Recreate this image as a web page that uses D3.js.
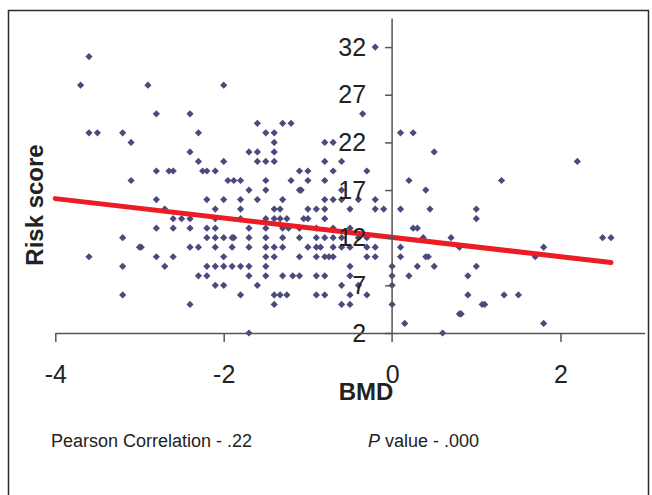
<!DOCTYPE html>
<html>
<head>
<meta charset="utf-8">
<script src="https://cdn.jsdelivr.net/npm/d3@7"></script>
<style>
	body { margin: 0; background: #fff; }
	svg { display: block; font-family: 'Liberation Sans', Arial, sans-serif; }
</style>
</head>
<body>
<div id="svg-container"></div>
<script>
// values: one BMD list per risk score
var riskScores = [32, 31, 28, 25, 24, 23, 22, 21, 20, 19, 18, 17, 16, 15, 14, 13, 12, 11, 10, 9, 8, 7, 6, 5, 4, 3, 2];
var bmdByRisk = [
	[-0.2],
	[-3.6],
	[-3.7, -2.9, -2.0],
	[-2.8, -2.4, -0.35],
	[-1.6, -1.3, -1.2],
	[-3.6, -3.5, -3.2, -2.3, -1.5, -1.4, 0.1, 0.25],
	[-3.1, -1.4, -0.8, -0.7],
	[-2.4, -1.7, -1.6, -1.4, 0.5],
	[-2.3, -2.0, -1.6, -1.5, -1.4, -0.8, -0.6, 2.2],
	[-2.8, -2.65, -2.6, -2.25, -2.2, -2.1, -1.1, -1.0, -0.7, -0.3],
	[-3.1, -1.95, -1.88, -1.8, -1.5, -1.2, -1.0, -0.8, 0.2, 1.3],
	[-1.7, -1.5, -1.1, -1.08, -0.6, 0.4],
	[-2.8, -2.2, -2.0, -1.8, -1.6, -1.3, -0.8, -0.7, -0.6, -0.4, -0.2],
	[-2.7, -2.1, -1.8, -1.4, -1.33, -1.0, -0.9, -0.8, -0.5, -0.2, -0.1, 0.1, 0.45, 1.0],
	[-2.6, -2.5, -2.4, -2.1, -1.8, -1.5, -1.4, -1.33, -1.25, -1.05, -1.0, -0.8, 1.0],
	[-2.8, -2.6, -2.4, -2.2, -2.1, -1.7, -1.5, -1.3, -1.23, -1.1, -0.9, -0.7, -0.5, 0.25, 0.3],
	[-3.2, -2.2, -2.1, -2.0, -1.9, -1.88, -1.7, -1.5, -1.3, -1.1, -0.9, -0.8, -0.7, -0.6, -0.4, -0.3, 0.37, 0.7, 2.5, 2.6],
	[-3.0, -2.98, -2.4, -2.3, -2.1, -1.9, -1.7, -1.5, -1.4, -1.3, -1.0, -0.9, -0.85, -0.7, -0.6, -0.5, -0.3, -0.2, 0.1, 0.8, 1.8],
	[-3.6, -2.8, -2.6, -2.0, -1.5, -1.4, -1.1, -0.9, -0.8, -0.75, -0.7, -0.3, -0.2, 0.1, 0.4, 0.43, 1.7],
	[-3.2, -2.7, -2.2, -2.1, -2.0, -1.9, -1.8, -1.7, -1.5, -0.5, 0.0, 0.3, 0.5, 1.0],
	[-2.3, -2.2, -1.7, -1.5, -1.3, -1.18, -1.1, -0.9, -0.8, -0.5, 0.0, 0.2, 0.9],
	[-2.1, -2.0, -1.6, -0.6, -0.4, 0.0],
	[-3.2, -1.8, -1.4, -1.33, -1.25, -0.9, -0.8, -0.5, -0.3, 0.9, 1.33, 1.5],
	[-2.4, -1.4, -0.6, -0.5, 0.0, 1.07, 1.1],
	[0.8, 0.82],
	[0.15, 1.8],
	[-1.7, 0.6]
];
// fitted line end points (BMD, risk score)
var fitX = [-4, 2.6];
var fitY = [16.1, 9.4];

var xTicks = [-4, -2, 0, 2];
var yTicks = [2, 7, 12, 17, 22, 27, 32];
var xDomain = [-4, 3];
var yDomain = [2, 35];

var CONFIGSVG = { width: 652, height: 495 };

var svg = d3
	.select('#svg-container')
	.append('svg')
	.attr('width', CONFIGSVG.width)
	.attr('height', CONFIGSVG.height);

var x = d3.scaleLinear().domain(xDomain).range([55.3, 644.7]);
var y = d3.scaleLinear().domain(yDomain).range([333, 18.5]);

// outer frame
svg
	.append('rect')
	.attr('x', 8.5)
	.attr('y', 10.5)
	.attr('width', 640)
	.attr('height', 500)
	.attr('fill', 'none')
	.attr('stroke', '#2b2b2b')
	.attr('stroke-width', 1.5);

var points = [];
riskScores.forEach((r, i) => {
	bmdByRisk[i].forEach((b) => points.push({ bmd: b, risk: r }));
});

// plain hyphen for negatives, like the original
var fmt = (d) => String(d);

// axes
var xAxis = svg
	.append('g')
	.attr('transform', 'translate(0,' + y(2) + ')')
	.call(d3.axisBottom(x).tickValues(xTicks).tickSize(9).tickSizeOuter(0).tickPadding(23).tickFormat(fmt));

var yAxis = svg
	.append('g')
	.attr('transform', 'translate(' + x(0) + ',0)')
	.call(d3.axisLeft(y).tickValues(yTicks).tickSize(7).tickSizeOuter(0).tickPadding(19).tickFormat(fmt));

[xAxis, yAxis].forEach((g) => {
	g.attr('font-family', null).attr('font-size', null);
	g.select('.domain').attr('stroke', '#555').attr('stroke-width', 1.5);
	g.selectAll('.tick line').attr('stroke', '#555').attr('stroke-width', 1.5);
	g.selectAll('.tick text').attr('fill', '#222').style('font-size', '25px');
});
// the y axis line runs a bit below the x axis, like a tick at 0
yAxis.select('.domain').attr('d', 'M0,' + y(yDomain[1]) + 'V' + (y(2) + 9));
xAxis.selectAll('.tick').filter((d) => d === 0).select('line').remove();

// points
svg
	.append('g')
	.selectAll('path')
	.data(points)
	.enter()
	.append('path')
	.attr('d', d3.symbol(d3.symbolSquare).size(26))
	.attr('transform', (d) => 'translate(' + x(d.bmd) + ',' + y(d.risk) + ') rotate(45)')
	.attr('fill', '#4a4a7c');

// regression line
svg
	.append('line')
	.attr('x1', x(fitX[0]))
	.attr('y1', y(fitY[0]))
	.attr('x2', x(fitX[1]))
	.attr('y2', y(fitY[1]))
	.attr('stroke', '#ec1c24')
	.attr('stroke-width', 5)
	.attr('stroke-linecap', 'round');

// bring tick labels over the marks
yAxis.raise();
xAxis.raise();

// titles
svg
	.append('text')
	.attr('x', 366)
	.attr('y', 400)
	.attr('text-anchor', 'middle')
	.style('font-size', '24px')
	.style('font-weight', 'bold')
	.attr('fill', '#222')
	.text('BMD');

svg
	.append('text')
	.attr('transform', 'translate(43,205) rotate(-90)')
	.attr('text-anchor', 'middle')
	.style('font-size', '24px')
	.style('font-weight', 'bold')
	.attr('fill', '#222')
	.text('Risk score');

svg
	.append('text')
	.attr('x', 51)
	.attr('y', 447)
	.style('font-size', '18px')
	.attr('fill', '#222')
	.text('Pearson Correlation - .22');

var pv = svg
	.append('text')
	.attr('x', 368)
	.attr('y', 447)
	.style('font-size', '18px')
	.attr('fill', '#222');
pv.append('tspan').style('font-style', 'italic').text('P');
pv.append('tspan').text(' value - .000');
</script>
</body>
</html>
